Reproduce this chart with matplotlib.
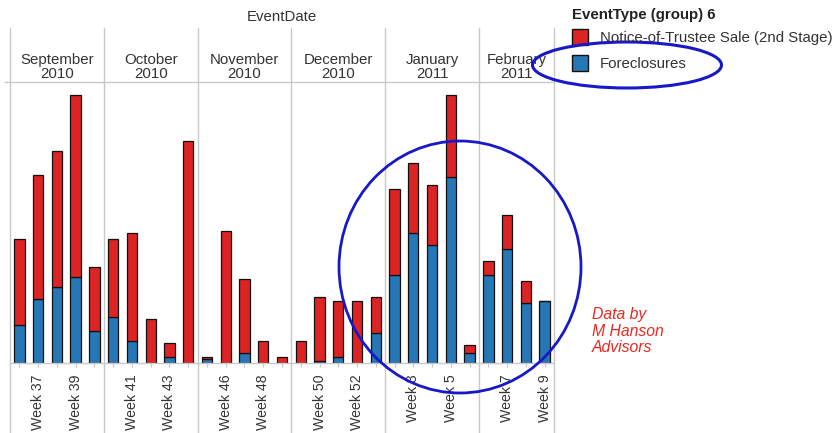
import matplotlib
matplotlib.use("Agg")
import matplotlib.pyplot as plt
from matplotlib import transforms
from matplotlib.patches import Ellipse, Rectangle
import numpy as np

plt.rcParams["font.family"] = ["Liberation Sans", "DejaVu Sans"]

# Months (panel headers) and the ISO weeks shown in each panel
months = ["September\n2010", "October\n2010", "November\n2010",
          "December\n2010", "January\n2011", "February\n2011"]
weeks = [
    [36, 37, 38, 39, 40],
    [40, 41, 42, 43, 44],
    [45, 46, 47, 48, 49],
    [49, 50, 51, 52, 53],
    [2, 3, 4, 5, 6],
    [6, 7, 8, 9],
]

# Weekly event counts per month panel
foreclosures = [
    [19, 32, 38, 43, 16],
    [23, 11, 0, 3, 0],
    [2, 0, 5, 0, 0],
    [0, 1, 3, 0, 15],
    [44, 65, 59, 93, 5],
    [44, 57, 30, 31],
]
trustee_sale = [
    [43, 62, 68, 91, 32],
    [39, 54, 22, 7, 111],
    [1, 66, 37, 11, 3],
    [11, 32, 28, 31, 18],
    [43, 35, 30, 41, 4],
    [7, 17, 11, 0],
]

legend_title = "EventType (group) 6"
series_names = ["Notice-of-Trustee Sale (2nd Stage)", "Foreclosures"]
red = "#dd2424"
blue = "#2577b5"
grid_col = "#c8c8c8"
txt_col = "#333333"
fs = 10.8

W, H = 836, 433
fig = plt.figure(figsize=(W / 100, H / 100), dpi=100)
ax = fig.add_axes([10 / W, (H - 363) / H, 544 / W, (363 - 82) / H])

blue_vals = np.concatenate([np.array(v, float) for v in foreclosures])
red_vals = np.concatenate([np.array(v, float) for v in trustee_sale])
n = len(blue_vals)
x = np.arange(n)

ax.bar(x, blue_vals, width=0.55, color=blue, edgecolor="#111111", linewidth=0.9)
ax.bar(x, red_vals, width=0.55, bottom=blue_vals, color=red,
       edgecolor="#111111", linewidth=0.9)

ax.set_xlim(-0.5, n - 0.5)
ax.set_ylim(0, 140.5)
ax.set_yticks([])
for s in ax.spines.values():
    s.set_visible(False)

# Week tick labels: every other week within each panel
labels = []
for wk in weeks:
    for i, w in enumerate(wk):
        labels.append(f"Week {w}" if i % 2 == 1 else "")
ax.set_xticks(x)
ax.set_xticklabels(labels, rotation=90, fontsize=10.2, color=txt_col)
ax.tick_params(axis="x", length=3, color=grid_col, pad=5)

# Panel grid lines: separators span header and tick label area
bt = transforms.blended_transform_factory(ax.transData, fig.transFigure)
edges = np.cumsum([0] + [len(w) for w in weeks]) - 0.5
for e in edges:
    ax.plot([e, e], [0, (H - 28) / H], transform=bt, color=grid_col,
            lw=1.0, clip_on=False)
ax.plot([-0.5 - 0.5 * 10 / 18.76, n - 0.5], [(H - 82) / H] * 2, transform=bt,
        color=grid_col, lw=1.0, clip_on=False)
ax.plot([-0.5, n - 0.5], [(H - 363) / H] * 2, transform=bt,
        color=grid_col, lw=1.0, clip_on=False)

# Month headers
for i, m in enumerate(months):
    cx = (edges[i] + edges[i + 1]) / 2
    ax.text(cx, (H - 67) / H, m, transform=bt, ha="center", va="center",
            fontsize=fs, color=txt_col, linespacing=1.0)

fig.text(282 / W, (H - 17) / H, "EventDate", ha="center", va="center",
         fontsize=fs, color=txt_col)

# Legend
fig.text(572 / W, (H - 15) / H, legend_title, ha="left", va="center",
         fontsize=fs, fontweight="bold", color="#222222")
for j, (name, col) in enumerate(zip(series_names, [red, blue])):
    yc = 37 + j * 26
    fig.patches.append(Rectangle((572 / W, (H - yc - 8) / H), 16 / W, 16 / H,
                                 transform=fig.transFigure, facecolor=col,
                                 edgecolor="#111111", lw=1.0))
    fig.text(600 / W, (H - yc - 1) / H, name, ha="left", va="center",
             fontsize=fs, color=txt_col)

# Hand-drawn highlight ellipses
ink = "#1818c8"
fig.patches.append(Ellipse((627 / W, (H - 65) / H), 189 / W, 46 / H,
                           transform=fig.transFigure, fill=False,
                           edgecolor=ink, lw=2.2))
fig.patches.append(Ellipse((460 / W, (H - 267) / H), 242 / W, 252 / H,
                           transform=fig.transFigure, fill=False,
                           edgecolor=ink, lw=2.0))

fig.text(592 / W, (H - 331) / H, "Data by\nM Hanson\nAdvisors", ha="left",
         va="center", fontsize=11.3, fontstyle="italic", color="#e82a22",
         linespacing=1.15)

fig.savefig("out.png", dpi=100)
